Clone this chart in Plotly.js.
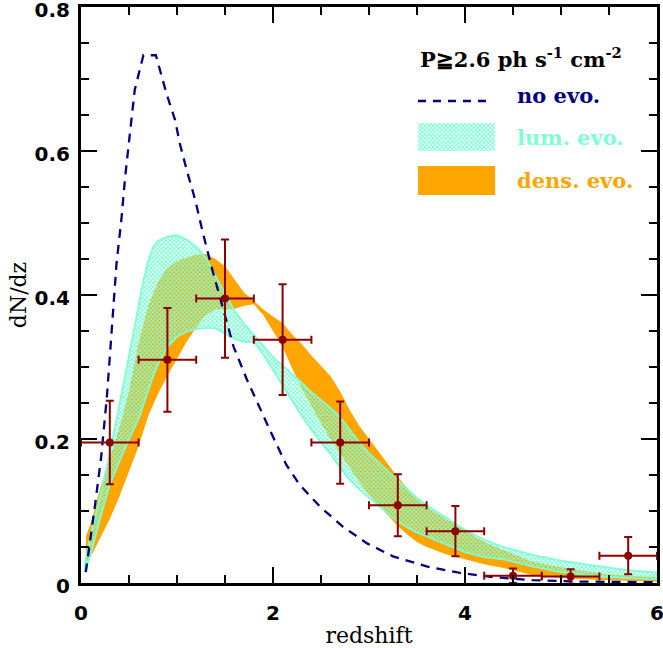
<!DOCTYPE html>
<html>
<head>
<meta charset="utf-8">
<script src="https://cdn.plot.ly/plotly-3.0.1.min.js"></script>
<style>html,body{margin:0;padding:0;background:#fff;}#chart{width:663px;height:648px;}</style>
</head>
<body>
<div id="chart"></div>
<script>
// ---- data ----
// measured points (redshift bins)
var obsZ    = [0.3, 0.9, 1.5, 2.1, 2.7, 3.3, 3.9, 4.5, 5.1, 5.7];
var obsZerr = [0.3, 0.3, 0.3, 0.3, 0.3, 0.3, 0.3, 0.3, 0.3, 0.3];
var obsN    = [0.195, 0.310, 0.395, 0.338, 0.195, 0.108, 0.072, 0.010, 0.009, 0.038];
var obsNerr = [0.058, 0.072, 0.082, 0.077, 0.057, 0.043, 0.035, 0.010, 0.010, 0.026];

// no evolution model
var noEvoZ = [0.05,0.1,0.15,0.21,0.27,0.32,0.37,0.42,0.46,0.51,0.56,0.65,0.78,0.89,0.98,1.03,1.1,1.19,1.27,1.36,1.48,1.59,1.73,1.87,2.0,2.14,2.28,2.49,2.73,2.98,3.25,3.6,3.95,4.3,4.7,5.2,6.0];
var noEvoN = [0.015,0.062,0.112,0.175,0.259,0.351,0.444,0.504,0.564,0.625,0.685,0.733,0.733,0.68,0.643,0.61,0.574,0.532,0.486,0.439,0.379,0.328,0.282,0.24,0.203,0.164,0.136,0.106,0.078,0.055,0.037,0.023,0.014,0.008,0.004,0.002,0.001];

// density evolution band
var densZ     = [0.05,0.1,0.2,0.3,0.4,0.5,0.6,0.7,0.8,0.9,1.0,1.1,1.2,1.3,1.4,1.5,1.6,1.7,1.8,1.9,2.0,2.1,2.2,2.3,2.4,2.5,2.6,2.7,2.8,2.9,3.0,3.1,3.2,3.3,3.4,3.5,3.6,3.7,3.8,3.9,4.0,4.2,4.4,4.7,5.0,5.4,5.7,6.0];
var densUpper = [0.065,0.082,0.132,0.175,0.215,0.266,0.334,0.385,0.418,0.438,0.447,0.452,0.456,0.457,0.45,0.44,0.422,0.403,0.392,0.38,0.37,0.361,0.345,0.332,0.316,0.301,0.287,0.266,0.24,0.218,0.2,0.182,0.164,0.147,0.132,0.117,0.105,0.097,0.089,0.08,0.072,0.057,0.046,0.03,0.022,0.0134,0.01,0.008];
var densLower = [0.03,0.036,0.063,0.089,0.12,0.155,0.19,0.232,0.262,0.288,0.312,0.335,0.355,0.372,0.38,0.38,0.381,0.385,0.387,0.372,0.35,0.328,0.298,0.27,0.245,0.222,0.2,0.18,0.16,0.14,0.123,0.108,0.093,0.079,0.067,0.057,0.05,0.045,0.04,0.036,0.033,0.026,0.021,0.011,0.007,0.004,0.003,0.002];

// luminosity evolution band
var lumZ     = [0.04,0.1,0.2,0.3,0.4,0.5,0.6,0.65,0.7,0.75,0.8,0.9,1.0,1.1,1.2,1.3,1.4,1.5,1.6,1.7,1.8,1.9,2.0,2.1,2.2,2.3,2.4,2.5,2.6,2.7,2.8,2.9,3.0,3.1,3.2,3.3,3.4,3.5,3.6,3.7,3.8,3.9,4.0,4.2,4.4,4.7,5.0,5.4,5.7,6.0];
var lumUpper = [0.025,0.067,0.121,0.18,0.247,0.315,0.385,0.42,0.447,0.466,0.475,0.481,0.483,0.477,0.467,0.452,0.427,0.402,0.378,0.36,0.344,0.329,0.314,0.302,0.291,0.278,0.265,0.254,0.243,0.23,0.213,0.195,0.18,0.168,0.155,0.142,0.13,0.118,0.108,0.1,0.091,0.082,0.074,0.06,0.05,0.039,0.031,0.023,0.018,0.0143];
var lumLower = [0.015,0.04,0.09,0.137,0.168,0.2,0.228,0.248,0.268,0.287,0.303,0.328,0.342,0.349,0.353,0.354,0.354,0.347,0.339,0.335,0.335,0.317,0.297,0.275,0.253,0.232,0.213,0.195,0.179,0.16,0.143,0.13,0.118,0.107,0.096,0.085,0.077,0.07,0.065,0.059,0.054,0.048,0.043,0.036,0.033,0.023,0.015,0.009,0.0067,0.0055];

var xTickVals = [0, 2, 4, 6];
var yTickVals = [0, 0.2, 0.4, 0.6, 0.8];
var legendTexts = ['P≧2.6 ph s<sup>-1</sup> cm<sup>-2</sup>', 'no evo.', 'lum. evo.', 'dens. evo.'];

// ---- helpers ----
function band(z, up, lo) {
  return { x: z.concat(z.slice().reverse()).concat([z[0]]),
           y: up.concat(lo.slice().reverse()).concat([up[0]]) };
}
var NAVY = '#000080', AQUA = '#7FFFD4', ORANGE = '#FFA500', DARKRED = '#8B0000';
var hatch = { shape: 'x', fgcolor: AQUA, bgcolor: 'rgba(0,0,0,0)', size: 3, solidity: 0.6 };

var dBand = band(densZ, densUpper, densLower);
var lBand = band(lumZ, lumUpper, lumLower);

var traces = [
  { x: dBand.x, y: dBand.y, type: 'scatter', mode: 'lines', fill: 'toself',
    fillcolor: ORANGE, line: { width: 0, color: ORANGE }, hoverinfo: 'skip', showlegend: false },
  { x: lBand.x, y: lBand.y, type: 'scatter', mode: 'lines', fill: 'toself',
    fillcolor: 'rgba(0,0,0,0)', fillpattern: hatch,
    line: { width: 1.8, color: AQUA }, hoverinfo: 'skip', showlegend: false },
  { x: noEvoZ, y: noEvoN, type: 'scatter', mode: 'lines',
    line: { color: NAVY, width: 2.3, dash: '9px,7px' }, showlegend: false },
  { x: obsZ, y: obsN, type: 'scatter', mode: 'markers',
    marker: { color: DARKRED, size: 8 },
    error_x: { type: 'data', array: obsZerr, visible: true, color: DARKRED, thickness: 2, width: 4 },
    error_y: { type: 'data', array: obsNerr, visible: true, color: DARKRED, thickness: 2, width: 4 },
    showlegend: false },
  // legend swatch for the hatched band (overlay axes in plot-area fractions)
  { x: [0.585, 0.719, 0.719, 0.585, 0.585], y: [0.7986, 0.7986, 0.75, 0.75, 0.7986],
    xaxis: 'x2', yaxis: 'y2', type: 'scatter', mode: 'lines', fill: 'toself',
    fillcolor: 'rgba(0,0,0,0)', fillpattern: hatch,
    line: { width: 0, color: AQUA }, hoverinfo: 'skip', showlegend: false }
];

var tickFont = { family: 'DejaVu Sans', size: 20, color: '#000', weight: 'bold' };
var titleFont = { family: 'DejaVu Serif', size: 22, color: '#000' };
var legFam = 'DejaVu Serif', legSize = 21;

var layout = {
  width: 663, height: 648,
  margin: { l: 81, r: 6, t: 7, b: 65 },
  paper_bgcolor: '#fff', plot_bgcolor: '#fff',
  showlegend: false,
  xaxis: {
    range: [0, 6], tickvals: xTickVals, ticks: 'inside', ticklen: 16, tickwidth: 2, tickcolor: '#000',
    showline: true, linewidth: 3, linecolor: '#000', mirror: 'ticks', showgrid: false, zeroline: false,
    minor: { dtick: 0.5, ticks: 'inside', ticklen: 8, tickwidth: 2, tickcolor: '#000', showgrid: false },
    tickfont: tickFont, ticklabelstandoff: 10, ticklabeloverflow: 'allow',
    title: { text: 'redshift', font: titleFont, standoff: 4 }
  },
  yaxis: {
    range: [0, 0.8], tickvals: yTickVals, ticks: 'inside', ticklen: 16, tickwidth: 2, tickcolor: '#000',
    showline: true, linewidth: 3, linecolor: '#000', mirror: 'ticks', showgrid: false, zeroline: false,
    minor: { dtick: 0.05, ticks: 'inside', ticklen: 8, tickwidth: 2, tickcolor: '#000', showgrid: false },
    tickfont: tickFont, ticklabelstandoff: 4, ticklabelshift: 3, ticklabeloverflow: 'allow',
    title: { text: 'dN/dz', font: titleFont, standoff: 2 }
  },
  xaxis2: { overlaying: 'x', anchor: 'y2', range: [0, 1], visible: false, fixedrange: true },
  yaxis2: { overlaying: 'y', anchor: 'x2', range: [0, 1], visible: false, fixedrange: true },
  shapes: [
    { type: 'line', xref: 'paper', yref: 'paper', x0: 0.585, x1: 0.7135, y0: 0.8368, y1: 0.8368,
      line: { color: NAVY, width: 2.3, dash: '8px,7px' } },
    { type: 'rect', xref: 'paper', yref: 'paper', x0: 0.585, x1: 0.719, y0: 0.6736, y1: 0.724,
      fillcolor: ORANGE, line: { width: 0 } }
  ],
  annotations: [
    { xref: 'paper', yref: 'paper', x: 0.585, y: 0.911, xanchor: 'left', yanchor: 'middle', showarrow: false,
      text: legendTexts[0], font: { family: legFam, size: legSize, weight: 'bold', color: '#000' } },
    { xref: 'paper', yref: 'paper', x: 0.7535, y: 0.846, xanchor: 'left', yanchor: 'middle', showarrow: false,
      text: legendTexts[1], font: { family: legFam, size: legSize, weight: 'bold', color: NAVY } },
    { xref: 'paper', yref: 'paper', x: 0.7535, y: 0.774, xanchor: 'left', yanchor: 'middle', showarrow: false,
      text: legendTexts[2], font: { family: legFam, size: legSize, weight: 'bold', color: AQUA } },
    { xref: 'paper', yref: 'paper', x: 0.7535, y: 0.699, xanchor: 'left', yanchor: 'middle', showarrow: false,
      text: legendTexts[3], font: { family: legFam, size: legSize, weight: 'bold', color: ORANGE } }
  ]
};

Plotly.newPlot('chart', traces, layout, { displayModeBar: false, staticPlot: true });
</script>
</body>
</html>
